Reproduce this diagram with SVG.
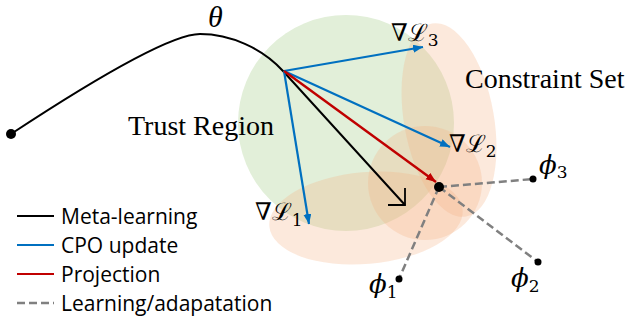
<svg xmlns="http://www.w3.org/2000/svg" width="630" height="324" viewBox="0 0 630 324">
<style>
.serif{font-family:"Liberation Serif","Times New Roman",serif;fill:#000}
.math{font-family:"DejaVu Serif","Liberation Serif",serif;fill:#000}
.leg{font-family:"Open Sans","Liberation Sans",sans-serif;font-size:21px;fill:#000}
.peach{fill:#f4b183;fill-opacity:0.28}
.blue{stroke:#0070c0;stroke-width:2.2;fill:none}
.dash{stroke:#808080;stroke-width:2.5;stroke-dasharray:8 4;fill:none}
</style>
<defs>
<marker id="ab" markerUnits="userSpaceOnUse" markerWidth="12" markerHeight="10" refX="10" refY="4" orient="auto">
<path d="M0,0 L10,4 L0,8 Z" fill="#0070c0"/>
</marker>
<marker id="ar" markerUnits="userSpaceOnUse" markerWidth="12" markerHeight="10" refX="10" refY="4" orient="auto">
<path d="M0,0 L10,4 L0,8 Z" fill="#c00000"/>
</marker>
</defs>
<g id="trust-region">
<circle cx="346" cy="123" r="108" fill="#e2efd9"/>
</g>
<g id="constraint-set">
<ellipse class="peach" cx="449" cy="120" rx="45" ry="98" transform="rotate(-10 449 120)"/>
<ellipse class="peach" cx="366" cy="218" rx="97" ry="46" transform="rotate(-5 366 218)"/>
<circle class="peach" cx="425" cy="183" r="57"/>
</g>
<g id="labels">
<text class="serif" x="128" y="135" font-size="28">Trust Region</text>
<text class="serif" x="465" y="88" font-size="28">Constraint Set</text>
<text class="serif" x="208" y="27" font-size="30" font-style="italic">θ</text>
</g>
<g id="connectors">
<path d="M11,134 C90,82 170,34 200,34 C230,34 262,48 283,71 L405,205" stroke="#000" stroke-width="2" fill="none"/>
<polyline points="388,205 405,205 405,188" stroke="#000" stroke-width="1.8" fill="none"/>
<line class="blue" x1="284" y1="71" x2="423" y2="47" marker-end="url(#ab)"/>
<line class="blue" x1="284" y1="71" x2="450" y2="147" marker-end="url(#ab)"/>
<line class="blue" x1="284" y1="71" x2="309" y2="224" marker-end="url(#ab)"/>
<line x1="284" y1="71" x2="436" y2="182" stroke="#c00000" stroke-width="2.4" marker-end="url(#ar)"/>
<line class="dash" x1="439" y1="187" x2="533" y2="179"/>
<line class="dash" x1="439" y1="187" x2="538" y2="262"/>
<line class="dash" x1="439" y1="187" x2="399" y2="279"/>
</g>
<g id="points">
<circle cx="11" cy="134" r="5"/>
<circle cx="439" cy="187" r="5"/>
<circle cx="533" cy="179" r="3.5"/>
<circle cx="538" cy="262" r="3.5"/>
<circle cx="399" cy="279" r="3.5"/>
</g>
<g id="math-labels">
<text class="math" x="391" y="41" font-size="24">∇ℒ<tspan font-size="17" dy="5">3</tspan></text>
<text class="math" x="449" y="152" font-size="24">∇ℒ<tspan font-size="17" dy="5">2</tspan></text>
<text class="math" x="255" y="220" font-size="24">∇ℒ<tspan font-size="17" dy="6">1</tspan></text>
<text class="math" x="539" y="174" font-size="26" font-style="italic">ϕ<tspan font-style="normal" font-size="17" dy="4">3</tspan></text>
<text class="math" x="511" y="287" font-size="26" font-style="italic">ϕ<tspan font-style="normal" font-size="17" dy="5">2</tspan></text>
<text class="math" x="369" y="293" font-size="26" font-style="italic">ϕ<tspan font-style="normal" font-size="17" dy="5">1</tspan></text>
</g>
<g id="legend">
<line x1="17" y1="216" x2="54" y2="216" stroke="#000" stroke-width="2.2"/>
<line x1="17" y1="245" x2="54" y2="245" stroke="#0070c0" stroke-width="2.2"/>
<line x1="17" y1="274" x2="54" y2="274" stroke="#c00000" stroke-width="2.2"/>
<line x1="17" y1="303" x2="54" y2="303" class="dash" stroke-dasharray="7 3.5"/>
<text class="leg" x="61" y="224">Meta-learning</text>
<text class="leg" x="61" y="253">CPO update</text>
<text class="leg" x="61" y="282">Projection</text>
<text class="leg" x="61" y="311">Learning/adapatation</text>
</g>
</svg>
